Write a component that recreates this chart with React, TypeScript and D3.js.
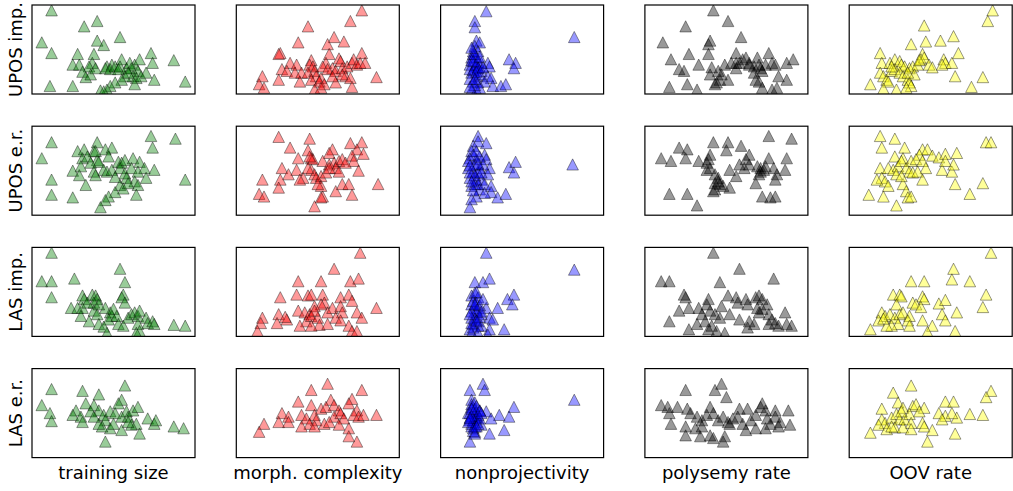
import React from "react";
import * as d3 from "d3";

// features (columns) and targets (rows)
const features = ["training size", "morph. complexity", "nonprojectivity", "polysemy rate", "OOV rate"];
const targets = ["UPOS imp.", "UPOS e.r.", "LAS imp.", "LAS e.r."];
const featureColors = ["green", "red", "blue", "black", "yellow"];

// normalised values (0-100), [feature, target]
const uposImpTrain = [[12,94],[32,76],[40,82],[6,58],[12,46],[54,64],[40,60],[44,55],[28,45],[25,33],[29,33],[38,45],[37,35],[35,31],[31,25],[33,19],[36,22],[39,29],[46,31],[49,33],[45,29],[48,28],[51,31],[55,39],[54,31],[58,29],[60,35],[63,33],[61,29],[66,39],[65,26],[62,20],[64,18],[67,20],[70,24],[57,20],[55,16],[51,13],[48,9],[46,5],[42,4],[44,3],[73,46],[74,35],[75,16],[87,38],[94,14],[11,9],[25,9],[63,11],[53,28],[59,24]];
const uposImpMorph = [[77,94],[70,82],[44,76],[38,58],[60,64],[56,56],[66,59],[27,46],[26,45],[57,45],[63,40],[64,37],[46,38],[45,33],[47,31],[33,35],[37,33],[28,28],[31,26],[36,24],[40,24],[44,24],[48,26],[49,20],[52,18],[55,35],[53,31],[59,29],[56,28],[61,26],[65,29],[68,31],[71,35],[72,39],[74,33],[76,35],[77,46],[79,35],[26,16],[16,20],[14,11],[17,7],[39,14],[46,16],[51,14],[54,11],[61,13],[67,20],[70,18],[71,8],[48,5],[52,7],[86,19],[65,22],[59,20]];
const uposImpNonproj = [[28,93],[21,82],[21,75],[22,60],[24,58],[21,54],[82,64],[42,39],[46,35],[45,29],[29,35],[30,31],[20,48],[19,41],[22,41],[18,33],[21,31],[23,29],[25,26],[19,24],[22,20],[29,20],[31,18],[27,14],[20,14],[23,13],[32,9],[37,9],[40,11],[19,5],[22,4],[24,7],[18,28],[25,35],[20,45],[23,48],[19,38],[21,45],[23,36],[20,27],[22,33],[24,22],[18,17],[21,10],[23,30],[19,52],[22,25],[20,37],[24,42],[21,17],[18,8],[26,30]];
const uposImpPoly = [[42,94],[51,82],[25,76],[59,64],[11,58],[40,60],[39,56],[39,45],[56,46],[27,45],[16,39],[33,33],[21,28],[24,26],[41,30],[40,22],[45,26],[47,22],[46,16],[44,13],[43,11],[49,33],[53,35],[51,16],[56,29],[58,35],[60,39],[62,41],[64,35],[69,41],[76,46],[70,33],[71,29],[72,26],[74,33],[78,35],[80,33],[67,24],[68,16],[70,14],[72,7],[78,5],[81,7],[82,20],[87,16],[87,35],[91,39],[15,8],[26,11],[32,5],[64,33],[56,35],[67,31]];
const uposImpOov = [[88,94],[85,82],[46,77],[38,56],[47,59],[56,60],[64,65],[67,46],[19,46],[20,35],[25,35],[28,39],[31,37],[32,33],[34,31],[37,29],[39,31],[42,33],[45,45],[44,39],[46,41],[49,33],[51,30],[58,39],[59,35],[63,35],[57,33],[19,24],[21,20],[23,16],[24,14],[26,26],[28,28],[31,24],[33,20],[36,16],[37,13],[38,9],[35,7],[29,5],[21,6],[13,11],[40,22],[65,20],[75,8],[82,19],[43,38],[26,31],[36,24]];

const uposErTrain = [[12,82],[6,64],[12,40],[12,23],[25,20],[73,89],[88,86],[74,76],[94,40],[40,82],[28,72],[32,74],[38,72],[45,74],[49,76],[47,66],[31,64],[34,66],[40,62],[41,60],[30,55],[25,50],[29,45],[33,34],[38,49],[39,45],[44,51],[46,49],[49,51],[53,60],[55,59],[57,62],[62,64],[66,60],[54,53],[57,47],[58,42],[61,53],[65,49],[69,53],[75,51],[70,42],[63,38],[65,34],[64,23],[54,34],[56,30],[51,26],[47,21],[45,17],[42,9],[59,36],[39,72],[36,59],[51,43]];
const uposErMorph = [[26,88],[33,76],[45,86],[44,73],[38,64],[46,64],[47,63],[45,66],[59,74],[57,70],[70,81],[77,82],[74,74],[78,69],[71,67],[72,61],[53,61],[57,57],[60,59],[63,61],[65,63],[67,59],[61,53],[63,49],[75,50],[28,53],[37,51],[32,46],[27,40],[26,31],[16,40],[14,24],[17,21],[41,42],[46,51],[48,46],[49,42],[52,44],[55,48],[52,33],[50,35],[53,21],[52,20],[48,10],[61,27],[65,35],[69,35],[71,23],[87,35],[39,40],[57,53],[44,53]];
const uposErNonproj = [[23,89],[28,81],[20,78],[23,83],[27,68],[28,63],[19,72],[22,63],[24,53],[18,64],[17,53],[20,49],[23,48],[30,53],[29,46],[18,42],[22,40],[25,40],[19,33],[23,35],[27,35],[31,33],[31,26],[35,20],[40,24],[42,54],[46,60],[45,48],[81,57],[22,21],[19,18],[18,9],[24,29],[17,61],[21,57],[26,57],[20,68],[18,48],[21,35],[27,25],[21,45],[23,58],[19,38],[24,66],[20,28],[22,72],[25,48],[18,56]];
const uposErPoly = [[76,89],[90,86],[10,64],[16,61],[21,76],[26,74],[25,64],[42,82],[51,82],[50,73],[59,78],[64,68],[40,68],[39,63],[33,61],[38,51],[40,53],[43,46],[45,42],[46,35],[43,36],[42,27],[52,31],[52,51],[56,44],[58,57],[62,63],[61,53],[64,57],[69,55],[71,53],[73,51],[70,46],[68,36],[76,64],[79,53],[81,46],[80,40],[86,51],[87,64],[72,21],[77,20],[80,21],[15,24],[26,24],[32,11],[48,33],[43,29],[74,55],[38,59],[45,38],[71,49]];
const uposErOov = [[19,89],[28,86],[20,76],[34,76],[45,74],[48,74],[43,68],[51,67],[55,65],[59,69],[66,70],[84,82],[87,82],[28,66],[33,64],[38,61],[41,63],[45,61],[47,53],[57,51],[63,49],[64,57],[59,61],[19,53],[24,53],[27,51],[30,55],[32,61],[35,53],[37,49],[39,48],[42,49],[45,40],[20,42],[22,38],[24,33],[17,40],[12,23],[21,21],[29,11],[33,35],[35,27],[36,20],[38,21],[65,35],[74,24],[82,36],[29,46],[32,44]];

const lasImpTrain = [[12,94],[6,62],[12,62],[12,44],[26,65],[54,76],[57,61],[56,47],[55,44],[57,38],[31,46],[32,42],[37,47],[39,46],[40,42],[38,38],[24,32],[28,32],[31,32],[30,23],[35,17],[38,29],[40,25],[45,32],[48,27],[49,23],[50,31],[47,19],[41,14],[44,11],[46,4],[52,23],[53,14],[56,12],[59,21],[61,25],[63,27],[65,23],[66,29],[70,21],[71,15],[74,17],[75,14],[65,14],[66,6],[64,4],[87,13],[94,12],[34,38],[41,36]];
const lasImpMorph = [[76,94],[60,76],[38,62],[52,62],[70,62],[75,65],[27,44],[37,47],[44,46],[46,47],[53,47],[54,38],[52,36],[64,44],[69,47],[71,40],[86,32],[16,21],[15,15],[13,6],[26,25],[25,15],[31,19],[38,29],[42,27],[45,25],[43,17],[46,23],[48,34],[50,21],[51,13],[46,12],[39,12],[56,27],[59,32],[64,34],[65,27],[61,21],[64,18],[69,12],[71,6],[74,27],[77,21],[74,6],[30,22],[56,14],[48,29]];
const lasImpNonproj = [[28,94],[82,75],[21,61],[26,61],[30,65],[19,46],[21,49],[23,44],[45,47],[41,42],[44,36],[35,32],[28,32],[30,21],[32,19],[19,36],[21,32],[22,27],[19,21],[23,17],[20,14],[25,12],[30,8],[39,8],[18,8],[19,4],[29,2],[25,25],[22,38],[20,40],[22,30],[19,28],[24,35],[21,20],[23,12],[19,15],[22,50],[24,22],[20,10],[25,28],[21,36],[23,4],[18,25],[26,42],[22,18]];
const lasImpPoly = [[42,94],[58,76],[79,65],[10,62],[15,62],[46,61],[24,47],[25,44],[21,29],[27,32],[33,32],[15,17],[27,8],[32,14],[39,42],[38,36],[40,29],[43,25],[46,21],[47,34],[51,46],[52,25],[56,44],[57,38],[62,42],[63,36],[68,44],[70,46],[72,42],[69,32],[70,27],[72,31],[75,36],[76,25],[78,19],[80,15],[86,27],[87,14],[90,12],[82,12],[64,17],[58,19],[63,10],[67,14],[37,17],[41,12],[44,6],[49,4],[39,8],[35,25],[76,14]];
const lasImpOov = [[87,94],[64,76],[63,64],[74,62],[38,62],[46,62],[84,47],[82,33],[27,47],[31,47],[32,45],[45,45],[46,42],[39,38],[41,36],[44,33],[55,37],[59,41],[57,25],[66,27],[59,18],[20,27],[22,23],[18,18],[25,25],[28,21],[31,25],[33,27],[37,23],[36,18],[30,14],[26,12],[23,12],[13,8],[45,18],[51,12],[48,5],[65,6],[37,12],[29,36],[21,20]];

const lasErTrain = [[12,77],[6,59],[11,50],[12,41],[31,75],[41,71],[57,81],[55,65],[53,61],[33,61],[38,59],[27,53],[25,48],[30,46],[31,40],[36,52],[41,53],[44,48],[45,42],[48,52],[51,50],[55,46],[58,52],[59,46],[62,53],[65,57],[64,38],[66,27],[61,37],[55,31],[48,33],[43,35],[41,38],[71,44],[75,38],[76,42],[87,35],[93,33],[45,18],[38,46],[50,38],[59,40]];
const lasErMorph = [[46,76],[56,83],[77,76],[71,66],[58,65],[38,63],[46,59],[52,55],[55,57],[60,59],[63,53],[69,61],[74,53],[28,50],[32,46],[26,40],[17,38],[14,29],[40,48],[43,44],[48,48],[49,42],[45,38],[40,35],[48,35],[54,38],[60,46],[64,50],[66,44],[72,48],[75,46],[78,48],[86,48],[63,37],[69,33],[74,18],[69,24],[32,40],[57,40]];
const lasErNonproj = [[26,83],[18,76],[27,76],[19,65],[19,57],[21,50],[18,44],[22,40],[19,35],[21,29],[18,18],[30,27],[39,31],[45,57],[42,46],[36,48],[28,52],[31,44],[82,65],[24,53],[25,37],[17,50],[22,46],[19,60],[21,55],[18,50],[22,45],[20,42],[19,38],[23,48],[21,35],[20,30],[22,52],[18,42],[24,44],[21,62],[19,47],[23,38],[20,33],[22,58],[17,40],[21,27],[24,53],[19,55],[22,35],[18,45],[25,50]];
const lasErPoly = [[25,76],[47,83],[43,76],[50,68],[10,59],[15,50],[14,57],[20,57],[26,55],[28,50],[16,38],[25,35],[31,33],[35,35],[25,25],[34,24],[40,25],[35,42],[38,48],[40,57],[42,50],[45,42],[48,46],[51,40],[54,44],[57,46],[58,55],[63,55],[60,38],[65,42],[68,48],[71,57],[72,61],[74,53],[75,44],[77,38],[80,46],[82,35],[80,53],[88,53],[83,40],[89,37],[42,22],[49,24],[62,31],[68,33],[74,33],[48,18],[52,38],[32,46]];
const lasErOov = [[87,75],[84,68],[38,81],[27,73],[20,55],[30,62],[33,56],[39,58],[41,60],[46,56],[43,52],[59,63],[64,63],[55,50],[59,47],[57,43],[66,45],[63,50],[74,49],[82,48],[20,43],[22,39],[18,37],[26,45],[29,49],[31,43],[34,43],[37,49],[38,39],[45,39],[46,35],[51,31],[48,18],[65,27],[13,28],[23,32],[28,34],[33,34],[38,32],[26,35],[32,52]];

const grid = [
  [uposImpTrain, uposImpMorph, uposImpNonproj, uposImpPoly, uposImpOov],
  [uposErTrain, uposErMorph, uposErNonproj, uposErPoly, uposErOov],
  [lasImpTrain, lasImpMorph, lasImpNonproj, lasImpPoly, lasImpOov],
  [lasErTrain, lasErMorph, lasErNonproj, lasErPoly, lasErOov],
];

const W = 1013;
const H = 491;
const left0 = 32;
const colStep = 204.3;
const pw = 163;
const top0 = 5;
const rowStep = 121.2;
const ph = 89;
const tri = "M0,-5.6L5.8,5.6L-5.8,5.6Z";

function Panel({ data, color, x0, y0, id }) {
  const x = d3.scaleLinear().domain([0, 100]).range([0, pw]);
  const y = d3.scaleLinear().domain([0, 100]).range([ph, 0]);
  return (
    <g transform={`translate(${x0},${y0})`}>
      <clipPath id={id}>
        <rect x={0} y={0} width={pw} height={ph} />
      </clipPath>
      <g clipPath={`url(#${id})`}>
        {data.map((d, i) => (
          <path
            key={i}
            d={tri}
            transform={`translate(${x(d[0])},${y(d[1])})`}
            fill={color}
            fillOpacity={0.4}
            stroke="black"
            strokeOpacity={0.4}
            strokeWidth={1}
          />
        ))}
      </g>
      <rect x={0} y={0} width={pw} height={ph} fill="none" stroke="black" strokeWidth={1.2} />
    </g>
  );
}

export default function App() {
  return (
    <svg
      width={W}
      height={H}
      style={{ position: "absolute", left: 0, top: 0, background: "white" }}
      fontFamily="DejaVu Sans"
    >
      {grid.map((row, r) =>
        row.map((data, c) => (
          <Panel
            key={`${r}-${c}`}
            id={`clip-${r}-${c}`}
            data={data}
            color={featureColors[c]}
            x0={left0 + c * colStep}
            y0={top0 + r * rowStep}
          />
        ))
      )}
      {targets.map((t, r) => (
        <text
          key={t}
          transform={`translate(22,${top0 + r * rowStep + ph / 2}) rotate(-90)`}
          textAnchor="middle"
          fontSize={18}
        >
          {t}
        </text>
      ))}
      {features.map((f, c) => (
        <text
          key={f}
          x={left0 + c * colStep + pw / 2}
          y={479}
          textAnchor="middle"
          fontSize={18}
        >
          {f}
        </text>
      ))}
    </svg>
  );
}
